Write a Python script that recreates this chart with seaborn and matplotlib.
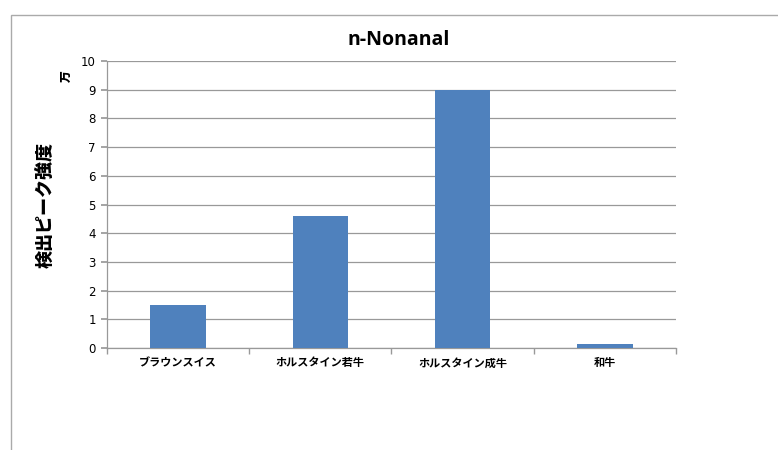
import matplotlib
matplotlib.use("Agg")
import matplotlib.pyplot as plt
import seaborn as sns
import pandas as pd
from matplotlib.patches import Rectangle

categories = ["ブラウンスイス", "ホルスタイン若牛", "ホルスタイン成牛", "和牛"]
values = [1.5, 4.6, 9.0, 0.13]
yticks = list(range(0, 11))

sns.set_theme(style="white")
plt.rcParams['font.family'] = ['Noto Sans CJK JP', 'DejaVu Sans']
plt.rcParams['text.color'] = 'black'

df = pd.DataFrame({"cat": categories, "val": values})

fig = plt.figure(figsize=(7.78, 4.5), dpi=100)
ax = fig.add_axes([107/778, 1-348/450, (676-107)/778, (348-61)/450])

sns.barplot(data=df, x="cat", y="val", color="#4F81BD", width=0.39,
            saturation=1, ax=ax, zorder=3, edgecolor="#4F81BD", linewidth=0)

ax.set_ylim(0, 10)
ax.set_xlim(-0.5, len(categories)-0.5)
ax.set_yticks(yticks)
ax.set_yticklabels([str(t) for t in yticks], fontsize=8.5, color="black",
                   family=['DejaVu Sans'])
ax.yaxis.grid(True, color="#999999", linewidth=0.9, zorder=0)
ax.set_axisbelow(True)
for s in ["top", "right"]:
    ax.spines[s].set_visible(False)
for s in ["left", "bottom"]:
    ax.spines[s].set_color("#999999")
    ax.spines[s].set_linewidth(0.9)
ax.tick_params(axis="y", which="major", left=True, length=4, color="#999999", pad=4)
ax.tick_params(axis="x", which="major", bottom=False, length=0, pad=6)
ax.set_xticks([i - 0.5 for i in range(len(categories)+1)], minor=True)
ax.tick_params(axis="x", which="minor", bottom=True, length=4, color="#999999")
ax.set_xticklabels(categories, fontsize=8, fontweight="bold", color="black")
ax.set_xlabel("")
ax.set_ylabel("")

fig.text(399/778, 1-40/450, "n-Nonanal", fontsize=14, fontweight="bold",
         color="black", ha="center", va="center",
         family=['Open Sans', 'DejaVu Sans'])

fig.text(45/778, 1-205/450, "検出ピーク強度", rotation=90, fontsize=13,
         fontweight="black", ha="center", va="center", color="black")
fig.text(66/778, 1-76/450, "万", rotation=90, fontsize=8.5,
         fontweight="black", ha="center", va="center", color="black")

fig.patches.append(Rectangle((11/778, -0.1), 1.2, 1-15/450+0.1,
                             transform=fig.transFigure, fill=False,
                             edgecolor="#AAAAAA", linewidth=1.0))

fig.savefig("out.png", dpi=100)
